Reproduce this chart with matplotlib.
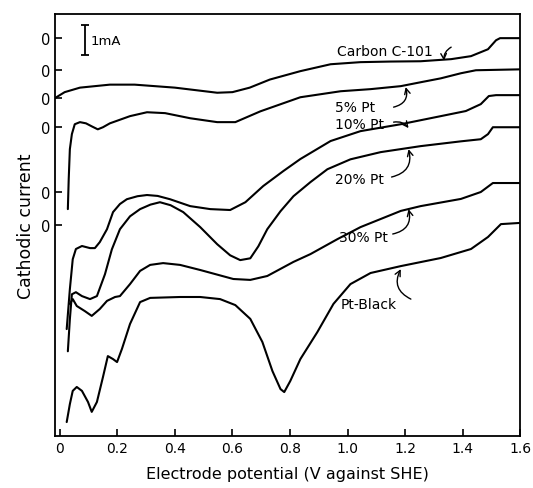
import matplotlib
matplotlib.use("Agg")
import matplotlib.pyplot as plt

# potentials (V vs SHE) and cathodic current (mA, positive = cathodic, drawn downward)
carbon_v = [-0.017, 0.017, 0.070, 0.174, 0.26, 0.40, 0.547, 0.60, 0.66, 0.73, 0.836, 0.941,
            1.045, 1.15, 1.254, 1.36, 1.429, 1.488, 1.516, 1.53, 1.60]
carbon_i = [2.00, 1.80, 1.65, 1.55, 1.55, 1.65, 1.82, 1.80, 1.65, 1.38, 1.10, 0.87,
            0.80, 0.78, 0.77, 0.70, 0.60, 0.37, 0.07, 0.0, 0.0]

pt5_v = [0.028, 0.031, 0.035, 0.042, 0.052, 0.070, 0.091, 0.111, 0.132, 0.150, 0.174, 0.244,
         0.303, 0.366, 0.453, 0.547, 0.610, 0.697, 0.836, 0.976, 1.080, 1.185, 1.254, 1.324,
         1.394, 1.446, 1.60]
pt5_i = [4.63, 3.63, 2.63, 2.13, 1.80, 1.73, 1.77, 1.87, 1.97, 1.90, 1.77, 1.53,
         1.40, 1.43, 1.60, 1.73, 1.73, 1.37, 0.90, 0.70, 0.63, 0.53, 0.40, 0.27,
         0.10, 0.0, -0.03]

pt10_v = [0.024, 0.035, 0.045, 0.056, 0.077, 0.105, 0.122, 0.139, 0.164, 0.185, 0.209, 0.233,
          0.27, 0.303, 0.34, 0.383, 0.453, 0.523, 0.592, 0.645, 0.707, 0.777, 0.836, 0.941,
          1.045, 1.185, 1.324, 1.411, 1.463, 1.491, 1.516, 1.60]
pt10_i = [7.70, 6.37, 5.37, 5.03, 4.93, 5.00, 5.00, 4.80, 4.37, 3.80, 3.53, 3.37,
          3.27, 3.23, 3.26, 3.37, 3.60, 3.70, 3.73, 3.47, 2.93, 2.43, 2.03, 1.43,
          1.10, 0.87, 0.60, 0.43, 0.20, -0.07, -0.10, -0.10]

pt20_v = [0.028, 0.035, 0.042, 0.056, 0.077, 0.105, 0.129, 0.157, 0.181, 0.209, 0.244, 0.279,
          0.315, 0.348, 0.385, 0.429, 0.488, 0.547, 0.592, 0.627, 0.662, 0.690, 0.721, 0.767,
          0.812, 0.871, 0.930, 1.010, 1.115, 1.254, 1.394, 1.463, 1.488, 1.505, 1.60]
pt20_i = [7.47, 6.40, 5.57, 5.50, 5.63, 5.73, 5.63, 4.90, 4.07, 3.40, 2.97, 2.73,
          2.58, 2.50, 2.60, 2.83, 3.33, 3.90, 4.27, 4.43, 4.37, 3.97, 3.40, 2.80,
          2.30, 1.83, 1.40, 1.07, 0.83, 0.63, 0.47, 0.40, 0.23, 0.0, 0.0]

pt30_v = [0.035, 0.045, 0.059, 0.087, 0.111, 0.139, 0.164, 0.192, 0.209, 0.244, 0.279, 0.314,
          0.359, 0.418, 0.488, 0.603, 0.662, 0.721, 0.812, 0.871, 0.965, 1.045, 1.185, 1.254,
          1.394, 1.463, 1.505, 1.60]
pt30_i = [3.73, 3.57, 3.80, 3.97, 4.13, 3.90, 3.63, 3.50, 3.47, 3.07, 2.63, 2.43,
          2.37, 2.43, 2.60, 2.90, 2.93, 2.80, 2.33, 2.07, 1.57, 1.17, 0.63, 0.47,
          0.23, 0.0, -0.30, -0.30]

ptb_v = [0.024, 0.035, 0.045, 0.059, 0.077, 0.098, 0.111, 0.129, 0.150, 0.167, 0.185, 0.199,
         0.216, 0.244, 0.279, 0.314, 0.418, 0.488, 0.557, 0.610, 0.662, 0.704, 0.739, 0.767,
         0.780, 0.801, 0.836, 0.895, 0.951, 1.010, 1.080, 1.185, 1.324, 1.429, 1.488, 1.533, 1.60]
ptb_i = [6.57, 5.97, 5.53, 5.40, 5.53, 5.90, 6.23, 5.90, 5.07, 4.37, 4.47, 4.57,
         4.13, 3.30, 2.57, 2.43, 2.40, 2.40, 2.47, 2.67, 3.13, 3.90, 4.87, 5.47,
         5.57, 5.20, 4.47, 3.57, 2.63, 1.97, 1.60, 1.37, 1.10, 0.80, 0.40, -0.03, -0.07]

# zero line of each curve, in mA below the top of the frame
zero_levels = [0.80, 1.87, 2.80, 3.77, 5.93, 7.03]

curves = [(carbon_v, carbon_i), (pt5_v, pt5_i), (pt10_v, pt10_i),
          (pt20_v, pt20_i), (pt30_v, pt30_i), (ptb_v, ptb_i)]

x_ticks = [0, 0.2, 0.4, 0.6, 0.8, 1.0, 1.2, 1.4, 1.6]
x_ticklabels = ["0", "0.2", "0.4", "0.6", "0.8", "1.0", "1.2", "1.4", "1.6"]

fig = plt.figure(figsize=(5.33, 4.89), dpi=100)
ax = fig.add_axes([0.103, 0.106, 0.873, 0.863])

for (v, i), z in zip(curves, zero_levels):
    ax.plot(v, [z + c for c in i], color="black", lw=1.5, solid_joinstyle="round",
            solid_capstyle="round")

ax.set_xlim(-0.017, 1.6)
ax.set_ylim(14.07, 0)

ax.set_xticks(x_ticks)
ax.set_xticklabels(x_ticklabels, fontsize=10)
ax.set_yticks(zero_levels)
ax.set_yticklabels(["0"] * len(zero_levels), fontsize=10.5)
ax.tick_params(direction="in", length=5, width=1.2)
for s in ax.spines.values():
    s.set_linewidth(1.3)

ax.set_xlabel("Electrode potential (V against SHE)", fontsize=11.5, labelpad=8)
ax.set_ylabel("Cathodic current", fontsize=12.5, labelpad=4)

# 1 mA scale bar
ax.errorbar([0.087], [0.87], yerr=[0.5], color="black", capsize=3, lw=1.3, capthick=1.3)
ax.text(0.108, 0.87, "1mA", fontsize=9.5, va="center", ha="left")

# curve labels with pointer arrows
labels = ["Carbon C-101", "5% Pt", "10% Pt", "20% Pt", "30% Pt", "Pt-Black"]
label_pos = [(0.965, 1.23), (0.958, 3.10), (0.958, 3.67), (0.958, 5.50), (0.969, 7.43), (0.976, 9.67)]
arrow_from = [(1.36, 1.10), (1.16, 3.10), (1.16, 3.60), (1.153, 5.43), (1.157, 7.33), (1.22, 9.50)]
arrow_to = [(1.335, 1.55), (1.202, 2.43), (1.212, 3.80), (1.212, 4.50), (1.212, 6.50), (1.185, 8.50)]
arrow_rad = [0.3, 0.5, -0.3, 0.5, 0.5, -0.5]

for lab, p, a, b, r in zip(labels, label_pos, arrow_from, arrow_to, arrow_rad):
    ax.text(p[0], p[1], lab, fontsize=10, va="center", ha="left")
    ax.annotate("", xy=b, xytext=a,
                arrowprops=dict(arrowstyle="->", lw=1.0, color="black",
                                connectionstyle=f"arc3,rad={r}", shrinkA=0, shrinkB=0))

fig.savefig("out.png", dpi=100)
